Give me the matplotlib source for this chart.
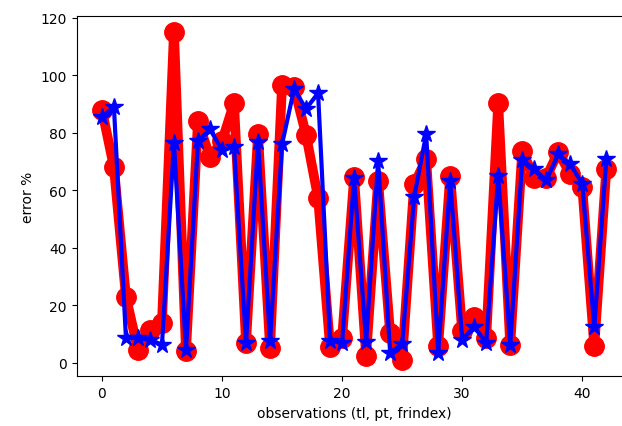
import matplotlib
matplotlib.use('Agg')
import matplotlib.pyplot as plt

# error % per observation, two runs
obs = list(range(43))
err_red = [88, 68, 23, 4.5, 11.5, 14, 115, 4, 84, 71.5, 77, 90.3, 7, 79.5,
           5.3, 96.6, 95.8, 79.3, 57.4, 5.5, 8.5, 64.5, 2.5, 63.2, 10.3, 1,
           62, 70.8, 5.7, 65, 10.9, 16, 8.7, 90.2, 6.2, 73.7, 64.4, 64.4,
           73.4, 65.6, 61, 5.7, 67.3]
err_blue = [85.4, 89, 8.7, 8.5, 8, 6.3, 76.5, 4.5, 77.2, 81.2, 74, 75, 7, 76.7,
            7.5, 76, 95.2, 88.3, 93.8, 7.5, 7, 64.3, 7.3, 70.2, 3.5, 6.5,
            57.6, 79.5, 3.5, 63.3, 8, 12.5, 7, 65, 6.3, 70.6, 67.3, 63.4,
            72.5, 69, 62.3, 12.3, 70.7]

fig = plt.figure(figsize=(6.22, 4.27), dpi=100)
ax = fig.add_axes([0.1233, 0.1164, 0.892, 0.8445])

ax.plot(obs, err_red, color='red', marker='o', linewidth=7, markersize=14)
ax.plot(obs, err_blue, color='blue', marker='*', linewidth=3, markersize=13)

ax.set_yticks([0, 20, 40, 60, 80, 100, 120])
ax.set_xlabel('observations (tl, pt, frindex)')
ax.set_ylabel('error %')

plt.savefig('out.png', dpi=100)
